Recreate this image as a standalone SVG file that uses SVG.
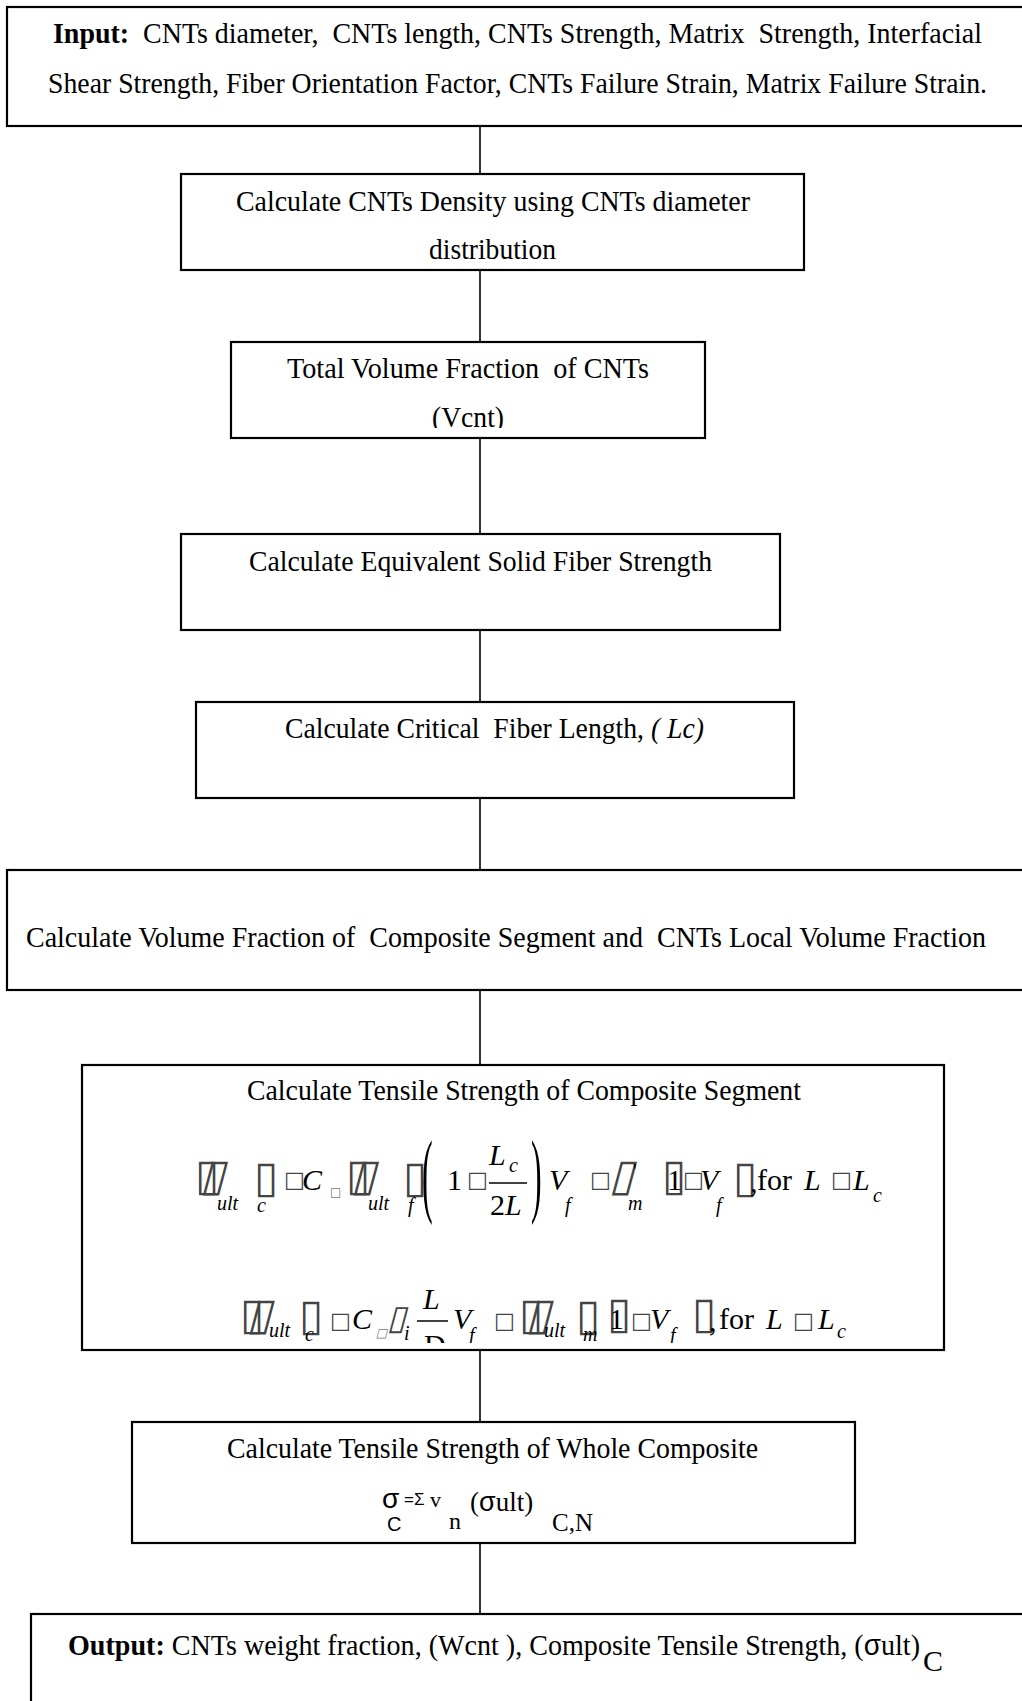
<svg xmlns="http://www.w3.org/2000/svg" width="1022" height="1701" viewBox="0 0 1022 1701">
<style>
.box{fill:#fff;stroke:#000;stroke-width:2.2}
.con{stroke:#000;stroke-width:1.6;fill:none}
.t{font-family:"Liberation Serif","Times New Roman",serif;font-size:30px;fill:#000;white-space:pre}
.b{font-weight:bold}
.i{font-style:italic}
.m{font-family:"Liberation Serif","Times New Roman",serif;font-size:30px;fill:#000;font-style:italic}
.mu{font-family:"Liberation Serif","Times New Roman",serif;font-size:30px;fill:#000}
.s{font-family:"Liberation Serif","Times New Roman",serif;font-size:20px;fill:#000;font-style:italic}
.tt{font-family:"DejaVu Sans",sans-serif;font-size:44px;fill:#444}
.ts{font-family:"DejaVu Sans",sans-serif;font-size:22px;fill:#444}
.tg{font-family:"DejaVu Sans",sans-serif;font-size:12px;fill:#777}
.sans{font-family:"Liberation Sans",Arial,sans-serif;fill:#000}
</style>
<defs>
<clipPath id="clip3"><rect x="230" y="342" width="476" height="86"/></clipPath>
<clipPath id="clip7"><rect x="82" y="1066" width="862" height="277"/></clipPath>
</defs>
<g id="connectors">
<line class="con" x1="480" y1="126" x2="480" y2="174"/>
<line class="con" x1="480" y1="270" x2="480" y2="342"/>
<line class="con" x1="480" y1="438" x2="480" y2="534"/>
<line class="con" x1="480" y1="630" x2="480" y2="702"/>
<line class="con" x1="480" y1="798" x2="480" y2="870"/>
<line class="con" x1="480" y1="990" x2="480" y2="1065"/>
<line class="con" x1="480" y1="1350" x2="480" y2="1422"/>
<line class="con" x1="480" y1="1543" x2="480" y2="1614"/>
</g>
<g id="input">
<rect class="box" x="7" y="7" width="1030" height="119"/>
<text class="t" x="53" y="43" textLength="929" lengthAdjust="spacingAndGlyphs"><tspan class="b">Input:</tspan>  CNTs diameter,  CNTs length, CNTs Strength, Matrix  Strength, Interfacial</text>
<text class="t" x="48" y="93" textLength="939" lengthAdjust="spacingAndGlyphs">Shear Strength, Fiber Orientation Factor, CNTs Failure Strain, Matrix Failure Strain.</text>
</g>
<g id="density">
<rect class="box" x="181" y="174" width="623" height="96"/>
<text class="t" x="236" y="211" textLength="514" lengthAdjust="spacingAndGlyphs">Calculate CNTs Density using CNTs diameter</text>
<text class="t" x="429" y="259" textLength="127" lengthAdjust="spacingAndGlyphs">distribution</text>
</g>
<g id="volume">
<rect class="box" x="231" y="342" width="474" height="96"/>
<text class="t" x="287" y="378" textLength="362" lengthAdjust="spacingAndGlyphs">Total Volume Fraction  of CNTs</text>
<text class="t" x="432" y="427" textLength="72" lengthAdjust="spacingAndGlyphs" clip-path="url(#clip3)">(Vcnt)</text>
</g>
<g id="equivalent">
<rect class="box" x="181" y="534" width="599" height="96"/>
<text class="t" x="249" y="571" textLength="463" lengthAdjust="spacingAndGlyphs">Calculate Equivalent Solid Fiber Strength</text>
</g>
<g id="critical">
<rect class="box" x="196" y="702" width="598" height="96"/>
<text class="t" x="285" y="738" textLength="419" lengthAdjust="spacingAndGlyphs">Calculate Critical  Fiber Length, <tspan class="i">( Lc)</tspan></text>
</g>
<g id="fraction">
<rect class="box" x="7" y="870" width="1030" height="120"/>
<text class="t" x="26" y="947" textLength="960" lengthAdjust="spacingAndGlyphs">Calculate Volume Fraction of  Composite Segment and  CNTs Local Volume Fraction</text>
</g>
<g id="segment">
<rect class="box" x="82" y="1065" width="862" height="285"/>
<text class="t" x="247" y="1100" textLength="554" lengthAdjust="spacingAndGlyphs">Calculate Tensile Strength of Composite Segment</text>
<g id="formula1">
<text class="tt" x="195" y="1190">▯</text>
<text class="tt" x="200" y="1190" transform="skewX(-15) translate(319,0)">▯</text>
<text class="s" x="217" y="1210">ult</text>
<text class="tt" x="254" y="1192">▯</text>
<text class="s" x="257" y="1212">c</text>
<text class="ts" x="284" y="1187">□</text>
<text class="m" x="302" y="1190">C</text>
<text class="tg" x="330" y="1196">□</text>
<text class="tt" x="346" y="1190">▯</text>
<text class="tt" x="351" y="1190" transform="skewX(-15) translate(319,0)">▯</text>
<text class="s" x="368" y="1210">ult</text>
<text class="tt" x="403" y="1192">▯</text>
<text class="s" x="408" y="1212">f</text>
<text class="mu" transform="translate(422,1205) scale(1,2.9)" style="font-size:32px">(</text>
<text class="mu" x="447" y="1190">1</text>
<text class="ts" x="467" y="1187">□</text>
<text class="m" x="489" y="1165">L</text>
<text class="s" x="509" y="1172">c</text>
<line x1="489" y1="1183" x2="527" y2="1183" stroke="#000" stroke-width="1.5"/>
<text class="mu" x="490" y="1215">2<tspan class="i">L</tspan></text>
<text class="mu" transform="translate(531,1205) scale(1,2.9)" style="font-size:32px">)</text>
<text class="m" x="549" y="1190">V</text>
<text class="s" x="565" y="1212">f</text>
<text class="ts" x="590" y="1187">□</text>
<text class="tt" x="609" y="1190" transform="skewX(-15) translate(319,0)">▯</text>
<text class="s" x="633" y="1178" style="font-style:normal">'</text>
<text class="s" x="628" y="1210">m</text>
<text class="tt" x="662" y="1190">▯</text>
<text class="mu" x="667" y="1190">1</text>
<text class="ts" x="683" y="1187">□</text>
<text class="m" x="700" y="1190">V</text>
<text class="s" x="716" y="1212">f</text>
<text class="tt" x="733" y="1192">▯</text>
<text class="mu" x="750" y="1192">,</text>
<text class="mu" x="757" y="1190">for</text>
<text class="m" x="804" y="1190">L</text>
<text class="ts" x="831" y="1187">□</text>
<text class="m" x="853" y="1190">L</text>
<text class="s" x="873" y="1202">c</text>
</g>
<g id="formula2" clip-path="url(#clip7)">
<text class="tt" x="240" y="1329">▯</text>
<text class="tt" x="247" y="1329" transform="skewX(-15) translate(356,0)">▯</text>
<text class="s" x="269" y="1337">ult</text>
<text class="tt" x="299" y="1330">▯</text>
<text class="s" x="305" y="1341">c</text>
<text class="ts" x="330" y="1328">□</text>
<text class="m" x="352" y="1329">C</text>
<text class="tg" x="376" y="1337" transform="skewX(-15) translate(358,0)">□</text>
<text class="tt" x="387" y="1329" transform="skewX(-15) translate(356,0)" style="font-size:34px">▯</text>
<text class="s" x="404" y="1340">i</text>
<text class="m" x="423" y="1309">L</text>
<line x1="417" y1="1321" x2="448" y2="1321" stroke="#000" stroke-width="1.5"/>
<text class="mu" x="424" y="1355">D</text>
<text class="m" x="453" y="1329">V</text>
<text class="s" x="469" y="1342">f</text>
<text class="ts" x="494" y="1328">□</text>
<text class="tt" x="519" y="1329">▯</text>
<text class="tt" x="526" y="1329" transform="skewX(-15) translate(356,0)">▯</text>
<text class="s" x="544" y="1337">ult</text>
<text class="tt" x="576" y="1330">▯</text>
<text class="s" x="583" y="1341">m</text>
<text class="tt" x="607" y="1328">▯</text>
<text class="mu" x="609" y="1329">1</text>
<text class="ts" x="631" y="1328">□</text>
<text class="m" x="650" y="1329">V</text>
<text class="s" x="670" y="1342">f</text>
<text class="tt" x="692" y="1328">▯</text>
<text class="mu" x="709" y="1331">,</text>
<text class="mu" x="719" y="1329">for</text>
<text class="m" x="766" y="1329">L</text>
<text class="ts" x="793" y="1328">□</text>
<text class="m" x="818" y="1329">L</text>
<text class="s" x="837" y="1338">c</text>
</g>
</g>
<g id="whole">
<rect class="box" x="132" y="1422" width="723" height="121"/>
<text class="t" x="227" y="1458" textLength="531" lengthAdjust="spacingAndGlyphs">Calculate Tensile Strength of Whole Composite</text>
<text class="sans" x="382" y="1508" style="font-size:28px">σ</text>
<text class="sans" x="387" y="1531" style="font-size:20px">C</text>
<text class="sans" x="404" y="1505" style="font-size:17px">=Σ</text>
<text class="t" x="430" y="1507" style="font-size:22px">v</text>
<text class="t" x="449" y="1529" style="font-size:24px">n</text>
<text class="t" x="470" y="1511" style="font-size:27px">(<tspan class="sans">σ</tspan>ult)</text>
<text class="t" x="552" y="1531" style="font-size:25px">C,N</text>
</g>
<g id="output">
<rect class="box" x="31" y="1614" width="1010" height="100"/>
<text class="t" x="68" y="1655" textLength="852" lengthAdjust="spacingAndGlyphs"><tspan class="b">Output:</tspan> CNTs weight fraction, (Wcnt ), Composite Tensile Strength, (<tspan class="sans">σ</tspan>ult)</text>
<text class="t" x="923" y="1671" style="font-size:30px">C</text>
</g>
</svg>
